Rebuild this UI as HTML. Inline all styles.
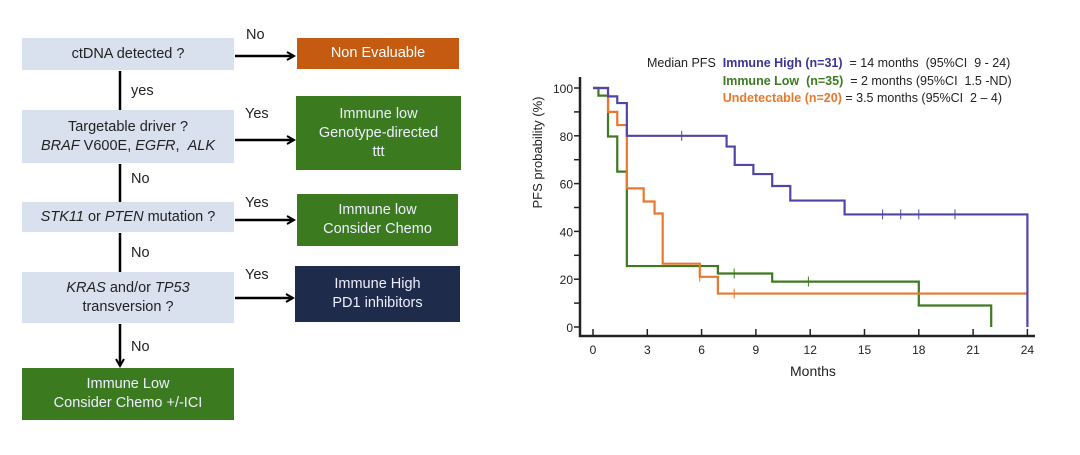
<!DOCTYPE html>
<html><head><meta charset="utf-8"><style>
body{margin:0;width:1080px;height:455px;background:#fff;overflow:hidden;font-family:"Liberation Sans",sans-serif;position:relative}
.b{position:absolute;display:flex;align-items:center;justify-content:center;text-align:center;font-size:14.5px;line-height:19px;color:#222}
.q{background:#d9e1ef}
.g{background:#3b7a1f;color:#eef}
.o{background:#c55a11;color:#fff}
.n{background:#1f2b4a;color:#eef}
.l{position:absolute;font-size:14.5px;color:#222}
</style></head><body>
<div class="b q" style="left:22px;top:38px;width:212px;height:32px"><div>ctDNA detected ?</div></div>
<div class="b o" style="left:297px;top:38px;width:162px;height:31px"><div>Non Evaluable</div></div>
<div class="b q" style="left:22px;top:110px;width:212px;height:53px"><div>Targetable driver ?<br><i>BRAF</i> V600E, <i>EGFR</i>,&nbsp; <i>ALK</i></div></div>
<div class="b g" style="left:296px;top:96px;width:165px;height:74px"><div>Immune low<br>Genotype-directed<br>ttt</div></div>
<div class="b q" style="left:22px;top:202px;width:212px;height:30px"><div><i>STK11</i> or <i>PTEN</i> mutation ?</div></div>
<div class="b g" style="left:297px;top:194px;width:161px;height:52px"><div>Immune low<br>Consider Chemo</div></div>
<div class="b q" style="left:22px;top:272px;width:212px;height:51px"><div><i>KRAS</i> and/or <i>TP53</i><br>transversion ?</div></div>
<div class="b n" style="left:295px;top:266px;width:165px;height:56px"><div>Immune High<br>PD1 inhibitors</div></div>
<div class="b g" style="left:22px;top:368px;width:212px;height:52px"><div>Immune Low<br>Consider Chemo +/-ICI</div></div>
<div class="l" style="left:246px;top:27px">No</div>
<div class="l" style="left:131px;top:83px">yes</div>
<div class="l" style="left:245px;top:106px">Yes</div>
<div class="l" style="left:131px;top:171px">No</div>
<div class="l" style="left:245px;top:195px">Yes</div>
<div class="l" style="left:131px;top:245px">No</div>
<div class="l" style="left:245px;top:267px">Yes</div>
<div class="l" style="left:131px;top:339px">No</div>
<svg style="position:absolute;left:0;top:0" width="1080" height="455">
<defs><marker id="ah" markerWidth="10" markerHeight="10" refX="8" refY="5" orient="auto" markerUnits="userSpaceOnUse"><path d="M1,1 L8,5 L1,9" fill="none" stroke="#000" stroke-width="2"/></marker></defs>
<g stroke="#000" stroke-width="2.5" fill="none">
<line x1="120" y1="71" x2="120" y2="110"/><line x1="120" y1="164" x2="120" y2="202"/><line x1="120" y1="233" x2="120" y2="272"/>
<line x1="120" y1="324" x2="120" y2="366" marker-end="url(#ah)"/>
<line x1="235" y1="56" x2="294" y2="56" marker-end="url(#ah)"/>
<line x1="235" y1="140" x2="294" y2="140" marker-end="url(#ah)"/>
<line x1="235" y1="220" x2="294" y2="220" marker-end="url(#ah)"/>
<line x1="235" y1="298" x2="293" y2="298" marker-end="url(#ah)"/>
</g></svg>
<svg id="km" style="position:absolute;left:0;top:0" width="1080" height="455"></svg>
<script>
const xTicks=[0,3,6,9,12,15,18,21,24];
const yTicks=[0,20,40,60,80,100];
const highT=[0,0.83,1.34,1.87,7.38,7.83,8.86,9.9,10.9,13.9,24];
const highS=[100,96.5,93.7,80,75.5,67.8,64,59,52.9,47.1,0];
const highCens=[4.9,16,17,18,20];
const lowT=[0,0.3,0.83,1.34,1.87,6.9,9.9,18,22];
const lowS=[100,96.8,79.7,65,25.5,22.4,19,9,0];
const lowCens=[7.8,11.9];
const undT=[0,0.83,1.34,1.87,2.8,3.4,3.85,5.9,6.9,24];
const undS=[100,90,84.5,58,52.5,47.5,26.5,21,14,14];
const undCens=[5.9,7.8,24];
const svg=document.getElementById('km');const NS='http://www.w3.org/2000/svg';
const X=m=>593+m*18.1, Y=v=>327-v*2.39;
function mk(t,a){const e=document.createElementNS(NS,t);for(const k in a)e.setAttribute(k,a[k]);svg.appendChild(e);return e;}
let ax=mk('path',{d:'M580,77 V336 H1035',stroke:'#222','stroke-width':2.5,fill:'none'});


for(let v=0;v<=100;v+=10){const t=mk('line',{x1:580,x2:574,y1:Y(v),y2:Y(v),stroke:'#222','stroke-width':1.5});

}
yTicks.forEach(v=>{const t=mk('text',{x:573,y:Y(v)+5,'text-anchor':'end','font-size':12,fill:'#222'});t.textContent=v;

});
xTicks.forEach(m=>{const l=mk('line',{x1:X(m),x2:X(m),y1:336,y2:329,stroke:'#222','stroke-width':1.5});


const t=mk('text',{x:X(m),y:354,'text-anchor':'middle','font-size':12,fill:'#222'});t.textContent=m;

});
function curve(T,S,C,col,name){let d='M'+X(T[0])+','+Y(S[0]);
for(let i=1;i<T.length;i++){d+=' H'+X(T[i])+' V'+Y(S[i]);}
const p=mk('path',{d:d,stroke:col,'stroke-width':2.2,fill:'none'});


C.forEach(c=>{let s=S[0];for(let i=0;i<T.length;i++)if(T[i]<=c)s=S[i];if(c>=T[T.length-1])s=S[S.length-2];
const l=mk('line',{x1:X(c),x2:X(c),y1:Y(s)-5,y2:Y(s)+5,stroke:col,'stroke-width':1});

});}
curve(lowT,lowS,lowCens,'#3d7a22','immune-low-curve');
curve(undT,undS,undCens,'#e8782e','undetectable-curve');
curve(highT,highS,highCens,'#5046a8','immune-high-curve');
</script>
<div style="position:absolute;left:455px;top:145px;width:165px;transform:rotate(-90deg);text-align:center;font-size:13px;color:#222">PFS probability (%)</div>
<div style="position:absolute;left:790px;top:363px;font-size:14px;color:#222">Months</div>
<div style="position:absolute;left:647px;top:55px;font-size:12.5px;line-height:17.5px;color:#222;white-space:pre"><span>Median PFS  </span><b style="color:#3b3496">Immune High (n=31)</b>  = 14 months  (95%CI  9 - 24)
<span style="visibility:hidden">Median PFS  </span><b style="color:#3d7a22">Immune Low  (n=35)</b>  = 2 months (95%CI  1.5 -ND)
<span style="visibility:hidden">Median PFS  </span><b style="color:#e8782e">Undetectable (n=20)</b> = 3.5 months (95%CI  2 – 4)</div>
</body></html>
